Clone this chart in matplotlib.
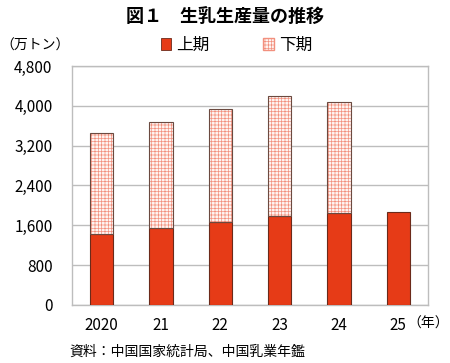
import numpy as np
import matplotlib
matplotlib.use("Agg")
import matplotlib.pyplot as plt
from matplotlib.patches import Patch
from matplotlib.ticker import FuncFormatter

plt.rcParams['font.family'] = ['Noto Sans CJK JP', 'DejaVu Sans']
plt.rcParams['hatch.linewidth'] = 0.5

# data (10k tonnes)
years = ["2020", "21", "22", "23", "24", "25"]
first_half = [1426, 1540, 1661, 1787, 1848, 1862]
second_half = [2028, 2141, 2269, 2416, 2223, 0]

RED = "#E63B17"
LIGHT = "#F2907E"

fig = plt.figure(figsize=(4.5, 3.63), dpi=100)
ax = fig.add_axes([0.16, 0.16, 0.791, 0.658])

x = np.arange(len(years))
w = 0.39
ax.bar(x, first_half, w, color=RED, edgecolor="#6b2a1a", linewidth=0.8, zorder=3)
sh = np.array(second_half)
mask = sh > 0
ax.bar(x[mask], sh[mask], w, bottom=np.array(first_half)[mask], color="#fff4f1",
       edgecolor=LIGHT, hatch="+++++", linewidth=0, zorder=3)
ax.bar(x[mask], sh[mask], w, bottom=np.array(first_half)[mask], fill=False,
       edgecolor="#6b4a40", linewidth=0.8, zorder=4)

ax.set_xlim(-0.5, 5.5)
ax.set_ylim(0, 4800)
ax.set_yticks(np.arange(0, 4801, 800))
ax.yaxis.set_major_formatter(FuncFormatter(lambda v, p: f"{int(v):,}"))
ax.set_xticks(x)
ax.set_xticklabels(years)
ax.tick_params(length=0, labelsize=11, pad=9)
ax.tick_params(axis='y', pad=14)
ax.grid(axis='y', color="#bdbdbd", linewidth=1, zorder=0)
for s in ax.spines.values():
    s.set_color("#bdbdbd")
    s.set_linewidth(1)

fig.text(0.5, 0.955, "図１　生乳生産量の推移", ha="center", va="center",
         fontsize=13, fontweight="bold")
fig.text(0.0, 0.875, "（万トン）", ha="left", va="center", fontsize=10)
fig.text(0.997, 0.107, "（年）", ha="right", va="center", fontsize=10)
fig.text(0.155, 0.03, "資料：中国国家統計局、中国乳業年鑑", ha="left", va="center",
         fontsize=10)

handles = [Patch(facecolor=RED, edgecolor="#6b2a1a", linewidth=0.6, label="上期"),
           Patch(facecolor="#fff4f1", edgecolor=LIGHT, hatch="+++++", label="下期")]
fig.legend(handles=handles, loc="center", bbox_to_anchor=(0.525, 0.875), ncol=2,
           frameon=False, fontsize=12, handlelength=0.65, handleheight=0.65,
           handletextpad=0.3, columnspacing=3.2)

fig.savefig("out.png", dpi=100)
